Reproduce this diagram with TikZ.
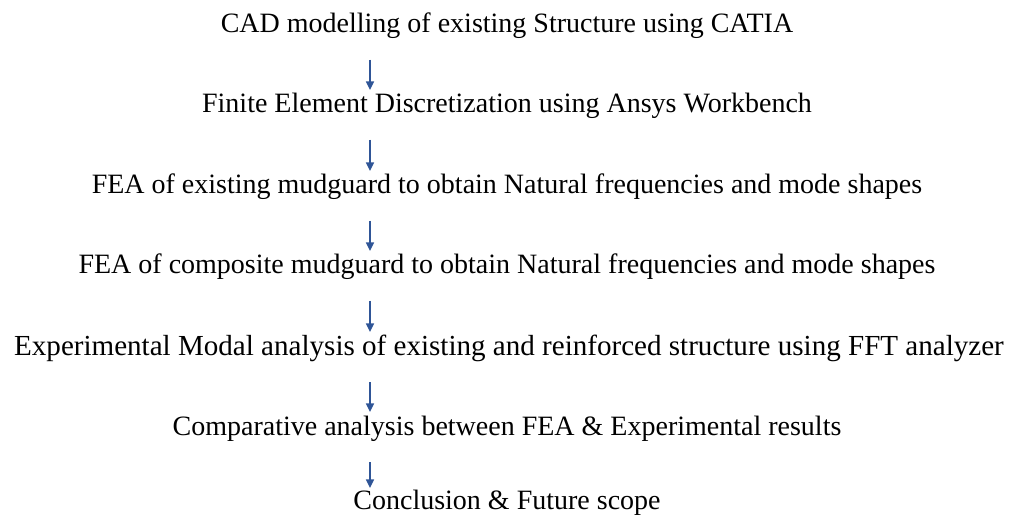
\documentclass[tikz,border=0pt]{standalone}
\usepackage{fontspec}
\setmainfont{Liberation Serif}
\usepackage{xcolor}
\usetikzlibrary{arrows.meta, positioning, calc}
\definecolor{flowblue}{RGB}{47,85,151}
\tikzset{%
  stage/.style={anchor=base, inner sep=0mm, font=\fontsize{21}{24}\selectfont},
  flow/.style={-{Triangle[width=6pt,length=6.5pt]}, draw=flowblue, fill=flowblue, line width=1.2pt}
}

\begin{document}
\begin{tikzpicture}[x=0.75pt, y=-0.75pt]
  \useasboundingbox (0,0) rectangle (1013,516);
  \node[stage] (cad) at (507,33) {CAD modelling of existing Structure using CATIA};
  \node[stage] (mesh) at (507,113) {Finite Element Discretization using Ansys Workbench};
  \node[stage] (feaold) at (507,194) {FEA of existing mudguard to obtain Natural frequencies and mode shapes};
  \node[stage] (feanew) at (507,274) {FEA of composite mudguard to obtain Natural frequencies and mode shapes};
  \node[stage] (ema) at (509,355) {\fontsize{21.8}{24}\selectfont Experimental Modal analysis of existing and reinforced structure using FFT analyzer};
  \node[stage] (comp) at (507,435) {Comparative analysis between FEA \& Experimental results};
  \node[stage] (concl) at (507,509) {Conclusion \& Future scope};
  \coordinate (ax) at (370,0);
  % arrows between the stages
  \draw[flow] ($(cad.base -| ax)+(0,27)$) -- ($(mesh.base -| ax)+(0,-23)$);
  \draw[flow] ($(mesh.base -| ax)+(0,27)$) -- ($(feaold.base -| ax)+(0,-23)$);
  \draw[flow] ($(feaold.base -| ax)+(0,27)$) -- ($(feanew.base -| ax)+(0,-23)$);
  \draw[flow] ($(feanew.base -| ax)+(0,27)$) -- ($(ema.base -| ax)+(0,-23)$);
  \draw[flow] ($(ema.base -| ax)+(0,27)$) -- ($(comp.base -| ax)+(0,-23)$);
  \draw[flow] ($(comp.base -| ax)+(0,27)$) -- ($(concl.base -| ax)+(0,-21)$);
\end{tikzpicture}
\end{document}
